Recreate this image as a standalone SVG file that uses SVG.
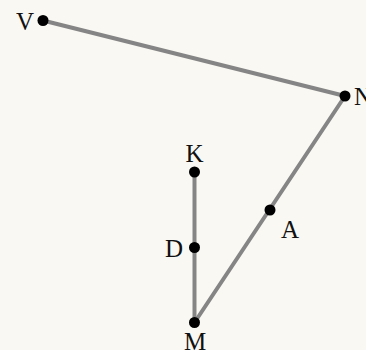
<svg xmlns="http://www.w3.org/2000/svg" width="366" height="350" viewBox="0 0 366 350">
<style>
.edge{stroke:#858585;stroke-width:4;stroke-linecap:round;fill:none}
.pt{fill:#000}
.lbl{font-family:"Liberation Serif","Times New Roman",serif;font-size:25px;fill:#111}
</style>
<rect width="366" height="350" fill="#faf8f3"/>
<g id="connectors">
<line class="edge" x1="43" y1="20.5" x2="345" y2="96"/>
<line class="edge" x1="345" y1="96" x2="194.5" y2="322.5"/>
<line class="edge" x1="194.5" y1="172" x2="194.5" y2="322.5"/>
</g>
<g id="V"><circle class="pt" cx="43" cy="20.5" r="5.5"/><text class="lbl" x="34" y="30" text-anchor="end">V</text></g>
<g id="N"><circle class="pt" cx="345" cy="96" r="5.5"/><text class="lbl" x="354" y="105">N</text></g>
<g id="A"><circle class="pt" cx="270" cy="210" r="5.5"/><text class="lbl" x="290" y="238" text-anchor="middle">A</text></g>
<g id="K"><circle class="pt" cx="194.5" cy="172" r="5.5"/><text class="lbl" x="194.5" y="162" text-anchor="middle">K</text></g>
<g id="D"><circle class="pt" cx="194.5" cy="247.5" r="5.5"/><text class="lbl" x="183" y="256.5" text-anchor="end">D</text></g>
<g id="M"><circle class="pt" cx="194.5" cy="322.5" r="5.5"/><text class="lbl" x="195" y="350" text-anchor="middle">M</text></g>
</svg>
